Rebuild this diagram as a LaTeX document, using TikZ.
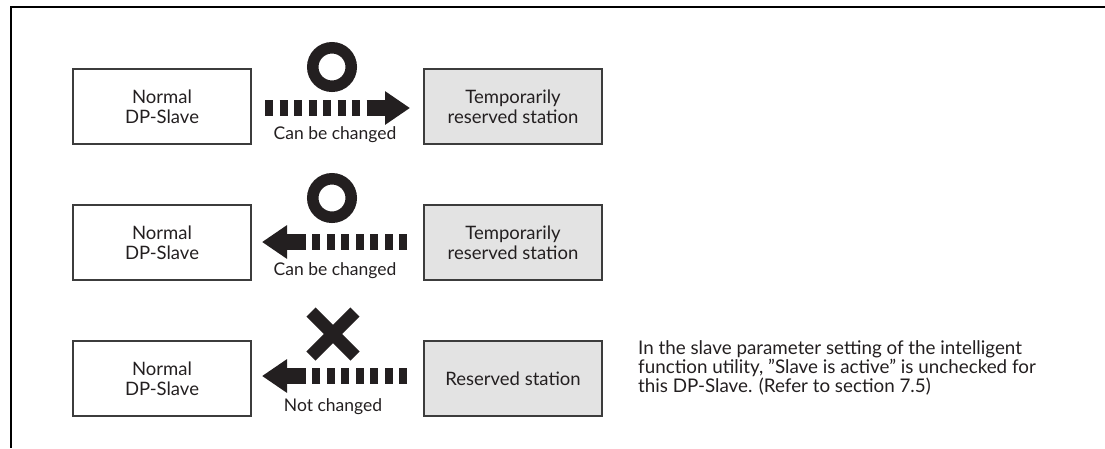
\documentclass[tikz,border=0pt]{standalone}
\usepackage{fontspec}
\setmainfont{Lato}
\usetikzlibrary{arrows.meta,calc}
\definecolor{ink}{HTML}{231F20}
\definecolor{boxline}{HTML}{3C3C3C}
\definecolor{boxfill}{HTML}{E3E3E3}
\begin{document}
\begin{tikzpicture}[x=1pt,y=-1pt,
  every node/.style={font=\fontsize{18.5}{20}\selectfont, text=ink},
  slavebox/.style={draw=boxline, line width=1.3pt, minimum width=178pt, minimum height=75pt, align=center, inner sep=0pt},
  resbox/.style={slavebox, fill=boxfill},
  dashbar/.style={draw=ink, line width=16pt, dash pattern=on 8pt off 6.5pt},
  solidarr/.style={draw=ink, line width=16pt, -{Triangle[length=25pt,width=32pt]}},
  ring/.style={draw=ink, line width=11.5pt},
  cross/.style={draw=ink, line width=13pt},
  lbl/.style={font=\fontsize{17.5}{19}\selectfont}
]
\useasboundingbox (0,0) rectangle (1105,448);
% frame
\draw[line width=2pt] (1105,7) -- (11,7) -- (11,448);

% row 1
\node[slavebox] (n1) at (162,106.5) {Normal\\DP-Slave};
\node[resbox] (g1) at (513,106.5) {Temporarily\\reserved station};
\coordinate (a1s) at (265,108);
\coordinate (a1m) at (360,108);
\coordinate (a1h) at (366.5,108);
\coordinate (a1e) at (410,108);
\draw[dashbar] (a1s) -- (a1m);
\draw[solidarr] (a1h) -- (a1e);
\node[circle, ring, minimum size=38.5pt, inner sep=0pt] (c1) at (332,67) {};
\node[lbl] (l1) at (335,135) {Can be changed};

% row 2
\node[slavebox] (n2) at (162,242.5) {Normal\\DP-Slave};
\node[resbox] (g2) at (513,242.5) {Temporarily\\reserved station};
\coordinate (a2s) at (407,242);
\coordinate (a2m) at (312,242);
\coordinate (a2h) at (305.5,242);
\coordinate (a2e) at (262,242);
\draw[dashbar] (a2s) -- (a2m);
\draw[solidarr] (a2h) -- (a2e);
\node[circle, ring, minimum size=38.5pt, inner sep=0pt] (c2) at (332,198) {};
\node[lbl] (l2) at (335,271) {Can be changed};

% row 3
\node[slavebox] (n3) at (162,378.5) {Normal\\DP-Slave};
\node[resbox] (g3) at (513,378.5) {Reserved station};
\coordinate (a3s) at (407,376);
\coordinate (a3m) at (312,376);
\coordinate (a3h) at (305.5,376);
\coordinate (a3e) at (262,376);
\draw[dashbar] (a3s) -- (a3m);
\draw[solidarr] (a3h) -- (a3e);
\coordinate (x0) at (333,334);
\draw[cross] ($(x0)+(-22,-22)$) -- ($(x0)+(22,22)$);
\draw[cross] ($(x0)+(-22,22)$) -- ($(x0)+(22,-22)$);
\node[lbl] (l3) at (333,407) {Not changed};

% note
\node[anchor=west, align=left, inner sep=0pt, font=\fontsize{18.8}{18.8}\selectfont] (note) at (638,368)
  {In the slave parameter setting of the intelligent\\function utility, "Slave is active" is unchecked for\\this DP-Slave. (Refer to section 7.5)};
\end{tikzpicture}
\end{document}
